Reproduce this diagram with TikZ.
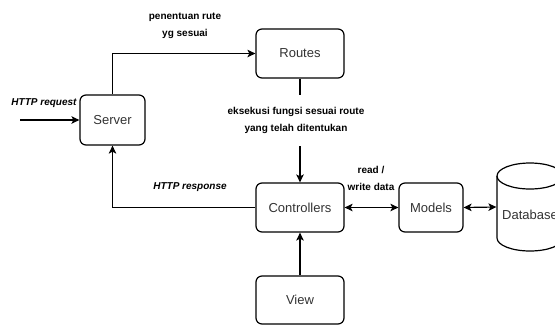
\documentclass[tikz,border=0pt]{standalone}
\usepackage{fontspec}
\setmainfont{Liberation Sans}
\usetikzlibrary{arrows.meta}
\begin{document}
\begin{tikzpicture}[x=1pt,y=-1pt,line width=1.2pt,
  box/.style={draw,rounded corners=6pt,inner sep=0pt,font=\fontsize{13}{15}\selectfont,text=black!80},
  lbl/.style={font=\fontsize{10}{17}\selectfont\bfseries,align=center,inner sep=0pt},
  ilbl/.style={font=\fontsize{10}{12}\selectfont\bfseries\itshape,inner sep=0pt},
  arr/.style={-{Stealth[length=8pt,width=7.5pt,inset=2pt]}},
  arrboth/.style={{Stealth[length=8pt,width=7.5pt,inset=2pt]}-{Stealth[length=8pt,width=7.5pt,inset=2pt]}}]
\clip (0,0) rectangle (555,325);
\fill[white] (0,0) rectangle (555,325);
% nodes
\node[box,minimum width=65pt,minimum height=50pt] (server) at (112.5,120) {Server};
\node[box,minimum width=88pt,minimum height=49pt] (routes) at (300,53.5) {Routes};
\node[box,minimum width=88pt,minimum height=49pt] (ctrl) at (300,207.5) {Controllers};
\node[box,minimum width=88pt,minimum height=48pt] (view) at (300,300) {View};
\node[box,minimum width=64pt,minimum height=49pt] (models) at (431,207.5) {Models};
% database cylinder
\filldraw[fill=white] (497,176) -- (497,238) arc[start angle=180,end angle=0,x radius=33,y radius=13] -- (563,176);
\draw (530,176) ellipse[x radius=33,y radius=13];
\node[inner sep=0pt,minimum width=66pt,minimum height=88pt,font=\fontsize{13}{15}\selectfont,text=black!80] (db) at (530,207) {};
\node[font=\fontsize{13}{15}\selectfont,text=black!80,inner sep=0pt] (dbtext) at (530,215) {Database};
% connectors
\coordinate (req) at (20,120);
\draw[arr] (req) -- (server.west);
\node[ilbl] (reqlbl) at (44,103) {HTTP request};
\draw[arr] (server.north) |- (routes.west);
\node[lbl] (routelbl) at (185,26) {penentuan rute\\yg sesuai};
\draw[arr] (routes.south) -- (ctrl.north);
\node[lbl,fill=white,minimum height=51pt] (execlbl) at (296,120) {eksekusi fungsi sesuai route\\yang telah ditentukan};
\draw[arr] (ctrl.west) -| (server.south);
\node[ilbl] (resplbl) at (190,187) {HTTP response};
\draw[arrboth] (ctrl.east) -- (models.west);
\node[lbl] (rwlbl) at (371,178.5) {read /\\write data};
\draw[arrboth] (models.east) -- (db.west);
\draw[arr] (view.north) -- (ctrl.south);
\end{tikzpicture}
\end{document}
